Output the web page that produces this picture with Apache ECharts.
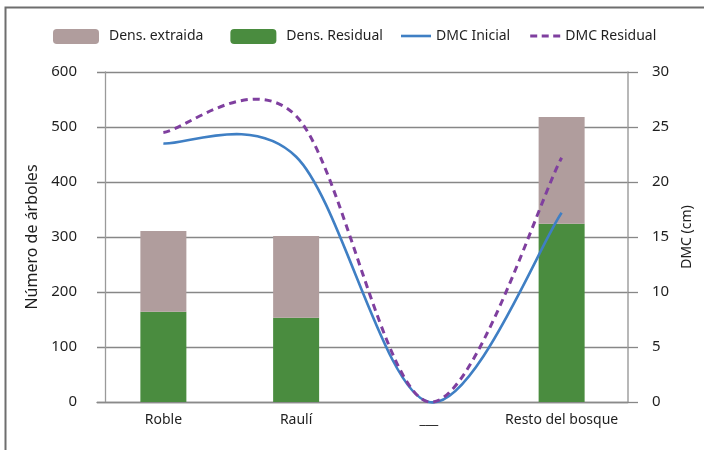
<!DOCTYPE html>
<html>
<head>
<meta charset="utf-8">
<script src="https://cdn.jsdelivr.net/npm/echarts@6/dist/echarts.min.js"></script>
<style>
  html, body { margin: 0; padding: 0; background: #fff; }
  #chart { width: 704px; height: 450px; }
</style>
</head>
<body>
<div id="chart"></div>
<script>
// datos
const categories = ['Roble', 'Raulí', '___', 'Resto del bosque']
const densResidual = [164, 153, 0, 324]
const densExtraida = [147, 149, 0, 194]
const dmcInicial = [23.5, 22.3, 0, 17.2]
const dmcResidual = [24.5, 26.0, 0, 22.2]
const leftTicks = { min: 0, max: 600, interval: 100 }
const rightTicks = { min: 0, max: 30, interval: 5 }

const font = 'Noto Sans'
const txt = '#1f1f1f'

// curva suavizada tipo Excel (Catmull-Rom) a partir de los puntos del eje
function smoothLine(values, color, width, dash) {
  return function (params, api) {
    if (params.dataIndex !== 0) return { type: 'group', children: [] }
    const pts = values.map((v, i) => api.coord([i, v]))
    let d = 'M' + pts[0][0] + ',' + pts[0][1]
    for (let i = 0; i < pts.length - 1; i++) {
      const p0 = pts[Math.max(i - 1, 0)]
      const p1 = pts[i]
      const p2 = pts[i + 1]
      const p3 = pts[Math.min(i + 2, pts.length - 1)]
      const c1 = [p1[0] + (p2[0] - p0[0]) / 6, p1[1] + (p2[1] - p0[1]) / 6]
      const c2 = [p2[0] - (p3[0] - p1[0]) / 6, p2[1] - (p3[1] - p1[1]) / 6]
      d += ' C' + c1[0] + ',' + c1[1] + ' ' + c2[0] + ',' + c2[1] + ' ' + p2[0] + ',' + p2[1]
    }
    return {
      type: 'path',
      shape: { pathData: d },
      style: { stroke: color, lineWidth: width, lineDash: dash, fill: null },
    }
  }
}

const myChart = echarts.init(document.getElementById('chart'))
const option = {
  animation: false,
  textStyle: { fontFamily: font },
  graphic: [
    {
      // marco exterior
      type: 'polyline',
      silent: true,
      shape: { points: [[5.5, 460], [5.5, 7.5], [720, 7.5]] },
      style: { stroke: '#6e6e6e', lineWidth: 2, fill: null },
    },
  ],
  grid: { left: 97, right: 76, top: 72, bottom: 48 },
  legend: [
    {
      data: ['Dens. extraida', 'Dens. Residual'],
      left: 53,
      top: 29,
      padding: 0,
      itemWidth: 46,
      itemHeight: 15,
      itemGap: 27,
      textStyle: { fontFamily: font, fontSize: 14, color: txt, padding: [0, 0, 0, 5] },
    },
    {
      data: [
        { name: 'DMC Inicial', icon: 'path://M0,0h30v2.6h-30z' },
        { name: 'DMC Residual', icon: 'path://M0,0h7v3h-7zM11.5,0h7v3h-7zM23,0h7v3h-7z' },
      ],
      left: 401,
      top: 29,
      padding: 0,
      itemWidth: 30,
      itemHeight: 15,
      itemGap: 20,
      textStyle: { fontFamily: font, fontSize: 14, color: txt },
    },
  ],
  xAxis: {
    type: 'category',
    data: categories,
    axisLine: { lineStyle: { color: '#8a8a8a', width: 1.3 } },
    axisTick: { show: false },
    axisLabel: { fontFamily: font, fontSize: 14, color: txt, margin: 11, interval: 0 },
  },
  yAxis: [
    {
      type: 'value',
      min: leftTicks.min,
      max: leftTicks.max,
      interval: leftTicks.interval,
      offset: -8,
      name: 'Número de árboles',
      nameLocation: 'middle',
      nameRotate: 90,
      nameGap: 65,
      nameTextStyle: { fontFamily: font, fontSize: 16, color: txt },
      axisLine: { show: true, lineStyle: { color: '#9a9a9a', width: 1.3 } },
      axisTick: { show: false },
      axisLabel: { fontFamily: font, fontSize: 15, color: txt, margin: 28 },
      splitLine: { lineStyle: { color: '#878787', width: 1.3 } },
    },
    {
      type: 'value',
      position: 'right',
      min: rightTicks.min,
      max: rightTicks.max,
      interval: rightTicks.interval,
      name: 'DMC (cm)',
      nameLocation: 'middle',
      nameRotate: 90,
      nameGap: 52,
      nameTextStyle: { fontFamily: font, fontSize: 14, color: txt },
      axisLine: { show: true, lineStyle: { color: '#a0a0a0', width: 1.5 } },
      axisTick: { show: true, length: 10, inside: false, lineStyle: { color: '#878787', width: 1.3 } },
      axisLabel: { fontFamily: font, fontSize: 15, color: txt, margin: 24 },
      splitLine: { show: false },
    },
  ],
  series: [
    {
      name: 'Dens. Residual',
      type: 'bar',
      stack: 'dens',
      barWidth: 46,
      data: densResidual,
      itemStyle: { color: '#4a8c3f' },
    },
    {
      name: 'Dens. extraida',
      type: 'bar',
      stack: 'dens',
      barWidth: 46,
      data: densExtraida,
      itemStyle: { color: '#b09d9d' },
    },
    {
      name: 'DMC Inicial',
      type: 'custom',
      yAxisIndex: 1,
      z: 5,
      data: dmcInicial.map((v, i) => [i, v]),
      itemStyle: { color: '#3f7fc4' },
      renderItem: smoothLine(dmcInicial, '#3f7fc4', 2.6, null),
    },
    {
      name: 'DMC Residual',
      type: 'custom',
      yAxisIndex: 1,
      z: 6,
      data: dmcResidual.map((v, i) => [i, v]),
      itemStyle: { color: '#7f3f9f' },
      renderItem: smoothLine(dmcResidual, '#7f3f9f', 3, [7, 5]),
    },
  ],
}
myChart.setOption(option, true)
</script>
</body>
</html>
